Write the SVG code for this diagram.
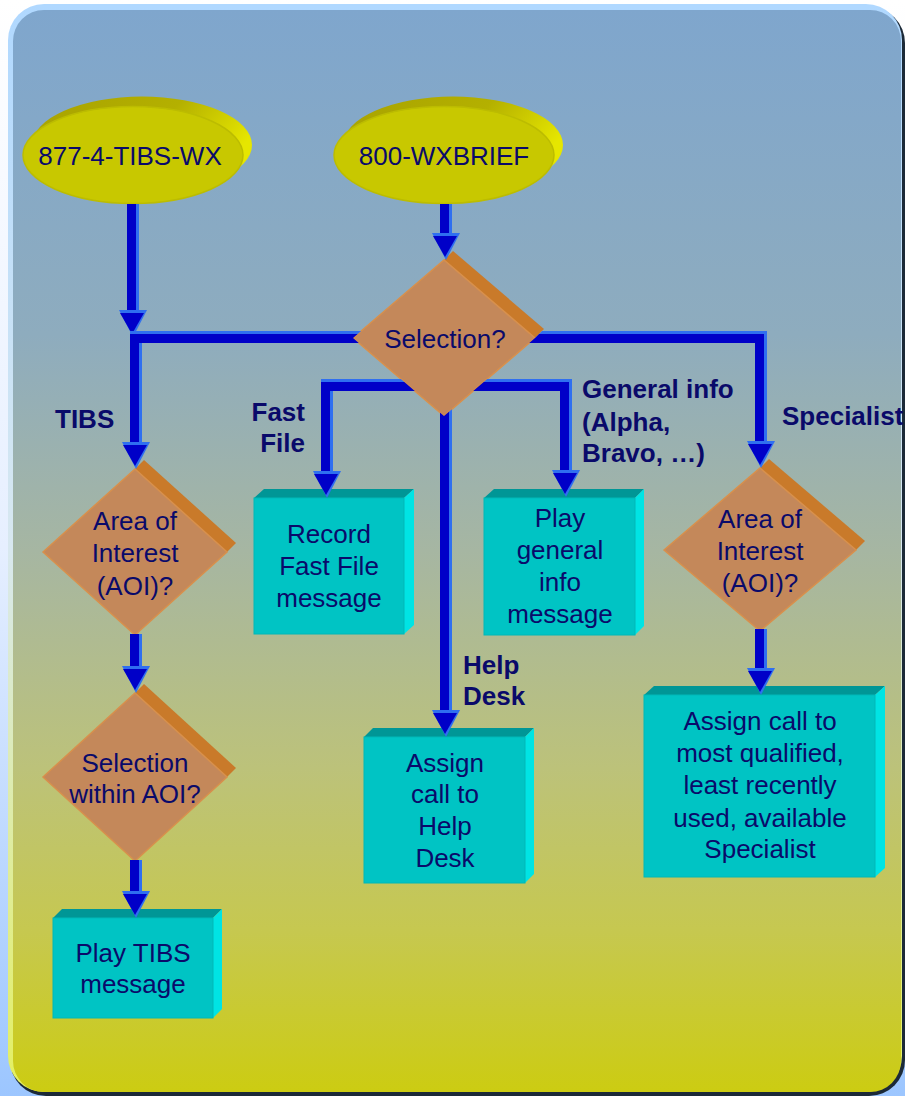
<svg xmlns="http://www.w3.org/2000/svg" xmlns:xlink="http://www.w3.org/1999/xlink" width="905" height="1096" viewBox="0 0 905 1096">
<style>
.t{font-family:"Liberation Sans",Arial,sans-serif;font-size:26px;fill:#0a0a6a;text-anchor:middle}
.lb{font-family:"Liberation Sans",Arial,sans-serif;font-size:26px;font-weight:bold;fill:#0a0a6a}
.dfront{fill:#c4885a;stroke:#d8904c;stroke-width:1.5}
.dside{fill:#c97a2a}
.bfront{fill:#00c4c4;stroke:#00b8b8;stroke-width:1}
.btop{fill:#009696}
.bside{fill:#00e4e4}
.efront{fill:#c8c800;stroke:#bcbc00;stroke-width:1.5}
.eback{fill:url(#eb)}
.wl{fill:none;stroke:#2f6ff0;stroke-width:12;stroke-linejoin:miter}
.wd{fill:none;stroke:#0000c8;stroke-width:9;stroke-linejoin:miter}
</style>
<defs>
<linearGradient id="pg" x1="0" y1="0" x2="0" y2="1096" gradientUnits="userSpaceOnUse">
<stop offset="0" stop-color="#ffffff"/><stop offset="0.5" stop-color="#e6efff"/><stop offset="1" stop-color="#9cc6ff"/>
</linearGradient>
<linearGradient id="bd" x1="0" y1="4" x2="0" y2="1092" gradientUnits="userSpaceOnUse">
<stop offset="0" stop-color="#b0d8ff"/><stop offset="0.5" stop-color="#d8e8f0"/><stop offset="1" stop-color="#e4f060"/>
</linearGradient>
<linearGradient id="bg" x1="0" y1="10" x2="0" y2="1092" gradientUnits="userSpaceOnUse">
<stop offset="0" stop-color="#7fa6cd"/><stop offset="0.3" stop-color="#8eacbe"/><stop offset="0.5" stop-color="#a6b6a2"/><stop offset="0.7" stop-color="#bcc27a"/><stop offset="0.85" stop-color="#c6c850"/><stop offset="1" stop-color="#cccc12"/>
</linearGradient>
<linearGradient id="eb" x1="0" y1="0" x2="1" y2="0.4">
<stop offset="0" stop-color="#a8a200"/><stop offset="0.6" stop-color="#b4b000"/><stop offset="1" stop-color="#e6e600"/>
</linearGradient>
<g id="ah">
<polygon points="-14,-27 14,-27 0,0" fill="#2f6ff0"/>
<polygon points="-13,-24 11,-24 -1,-3" fill="#0000c8"/>
</g>
<mask id="noSel" maskUnits="userSpaceOnUse" x="0" y="0" width="905" height="1096">
<rect x="0" y="0" width="905" height="1096" fill="#fff"/>
<polygon points="353,338 444,260 453,251 544,329 535,338 444,416" fill="#000"/>
</mask>
</defs>

<g id="background">
<rect x="0" y="0" width="905" height="1096" fill="url(#pg)"/>
<rect x="10" y="7" width="895" height="1089" rx="36" fill="#1c2a38"/>
<rect x="8" y="4" width="894" height="1088" rx="36" fill="url(#bd)"/>
<rect x="13" y="10" width="888" height="1082" rx="31" fill="url(#bg)"/>
</g>

<g id="node-877">
<ellipse class="eback" cx="142" cy="145" rx="110" ry="48.5"/>
<ellipse class="efront" cx="133" cy="155" rx="110" ry="48.5"/>
<text class="t" x="130" y="165">877-4-TIBS-WX</text>
</g>

<g id="node-800">
<ellipse class="eback" cx="453" cy="145" rx="110" ry="48.5"/>
<ellipse class="efront" cx="444" cy="155" rx="110" ry="48.5"/>
<text class="t" x="444" y="165">800-WXBRIEF</text>
</g>

<g id="node-selection">
<polygon class="dside" points="444,260 453,251 544,329 535,338"/>
<polygon class="dfront" points="353,338 444,260 535,338 444,416"/>
<text class="t" x="445" y="348">Selection?</text>
</g>

<g id="node-tibs-aoi">
<polygon class="dside" points="135,469 144,460 236,543 227,552"/>
<polygon class="dfront" points="43,552 135,469 227,552 135,635"/>
<text class="t" x="135" y="530">Area of</text>
<text class="t" x="135" y="562">Interest</text>
<text class="t" x="135" y="595">(AOI)?</text>
</g>

<g id="node-tibs-sel">
<polygon class="dside" points="135,693 144,684 236,768 227,777"/>
<polygon class="dfront" points="43,777 135,693 227,777 135,861"/>
<text class="t" x="135" y="772">Selection</text>
<text class="t" x="135" y="803">within AOI?</text>
</g>

<g id="node-spec-aoi">
<polygon class="dside" points="760,468 769,459 865,541 856,550"/>
<polygon class="dfront" points="664,550 760,468 856,550 760,631"/>
<text class="t" x="760" y="528">Area of</text>
<text class="t" x="760" y="560">Interest</text>
<text class="t" x="760" y="592">(AOI)?</text>
</g>

<g id="node-tibs-msg">
<polygon class="btop" points="53,918 62,909 222,909 213,918"/>
<polygon class="bside" points="213,918 222,909 222,1009 213,1018"/>
<rect class="bfront" x="53" y="918" width="160" height="100"/>
<text class="t" x="133" y="962">Play TIBS</text>
<text class="t" x="133" y="993">message</text>
</g>

<g id="node-fastfile">
<polygon class="btop" points="254,498 264,489 414,489 404,498"/>
<polygon class="bside" points="404,498 414,489 414,625 404,634"/>
<rect class="bfront" x="254" y="498" width="150" height="136"/>
<text class="t" x="329" y="543">Record</text>
<text class="t" x="329" y="575">Fast File</text>
<text class="t" x="329" y="607">message</text>
</g>

<g id="node-general">
<polygon class="btop" points="484,498 494,489 644,489 635,498"/>
<polygon class="bside" points="635,498 644,489 644,626 635,635"/>
<rect class="bfront" x="484" y="498" width="151" height="137"/>
<text class="t" x="560" y="527">Play</text>
<text class="t" x="560" y="559">general</text>
<text class="t" x="560" y="591">info</text>
<text class="t" x="560" y="623">message</text>
</g>

<g id="node-helpdesk">
<polygon class="btop" points="364,737 373,728 534,728 525,737"/>
<polygon class="bside" points="525,737 534,728 534,874 525,883"/>
<rect class="bfront" x="364" y="737" width="161" height="146"/>
<text class="t" x="445" y="772">Assign</text>
<text class="t" x="445" y="803">call to</text>
<text class="t" x="445" y="835">Help</text>
<text class="t" x="445" y="867">Desk</text>
</g>

<g id="node-specialist">
<polygon class="btop" points="644,695 654,686 885,686 875,695"/>
<polygon class="bside" points="875,695 885,686 885,868 875,877"/>
<rect class="bfront" x="644" y="695" width="231" height="182"/>
<text class="t" x="760" y="730">Assign call to</text>
<text class="t" x="760" y="762">most qualified,</text>
<text class="t" x="760" y="794">least recently</text>
<text class="t" x="760" y="827">used, available</text>
<text class="t" x="760" y="858">Specialist</text>
</g>

<g id="connectors">
<g id="c-877">
<polyline class="wl" points="133,204 133,314"/>
<polyline class="wd" points="131.5,204 131.5,314"/>
<use xlink:href="#ah" href="#ah" x="133" y="337"/>
</g>
<g id="c-800">
<polyline class="wl" points="446,204 446,236"/>
<polyline class="wd" points="444.5,204 444.5,236"/>
<use xlink:href="#ah" href="#ah" x="446" y="260"/>
</g>
<g id="c-tibs" mask="url(#noSel)">
<polyline class="wl" points="400,337 136,337 136,444"/>
<polyline class="wd" points="400,338.5 134.5,338.5 134.5,444"/>
</g>
<use xlink:href="#ah" href="#ah" x="136" y="469"/>
<g id="c-spec" mask="url(#noSel)">
<polyline class="wl" points="500,337 761,337 761,443"/>
<polyline class="wd" points="500,338.5 759.5,338.5 759.5,443"/>
</g>
<use xlink:href="#ah" href="#ah" x="761" y="468"/>
<g id="c-fast" mask="url(#noSel)">
<polyline class="wl" points="440,385 327,385 327,473"/>
<polyline class="wd" points="440,386.5 325.5,386.5 325.5,473"/>
</g>
<use xlink:href="#ah" href="#ah" x="327" y="498"/>
<g id="c-general" mask="url(#noSel)">
<polyline class="wl" points="450,385 566,385 566,472"/>
<polyline class="wd" points="450,386.5 564.5,386.5 564.5,472"/>
</g>
<use xlink:href="#ah" href="#ah" x="566" y="497"/>
<g id="c-help" mask="url(#noSel)">
<polyline class="wl" points="446,400 446,712"/>
<polyline class="wd" points="444.5,400 444.5,712"/>
</g>
<use xlink:href="#ah" href="#ah" x="446" y="737"/>
<g id="c-aoi1">
<polyline class="wl" points="136,634 136,668"/>
<polyline class="wd" points="134.5,634 134.5,668"/>
<use xlink:href="#ah" href="#ah" x="136" y="693"/>
</g>
<g id="c-aoi2">
<polyline class="wl" points="136,860 136,893"/>
<polyline class="wd" points="134.5,860 134.5,893"/>
<use xlink:href="#ah" href="#ah" x="136" y="918"/>
</g>
<g id="c-aoi3">
<polyline class="wl" points="761,629 761,670"/>
<polyline class="wd" points="759.5,629 759.5,670"/>
<use xlink:href="#ah" href="#ah" x="761" y="695"/>
</g>
</g>

<g id="labels">
<text class="lb" x="55" y="428">TIBS</text>
<text class="lb" x="305" y="421" text-anchor="end">Fast</text>
<text class="lb" x="305" y="452" text-anchor="end">File</text>
<text class="lb" x="582" y="398">General info</text>
<text class="lb" x="582" y="431">(Alpha,</text>
<text class="lb" x="582" y="462">Bravo, …)</text>
<text class="lb" x="782" y="425">Specialist</text>
<text class="lb" x="463" y="674">Help</text>
<text class="lb" x="463" y="705">Desk</text>
</g>
</svg>
